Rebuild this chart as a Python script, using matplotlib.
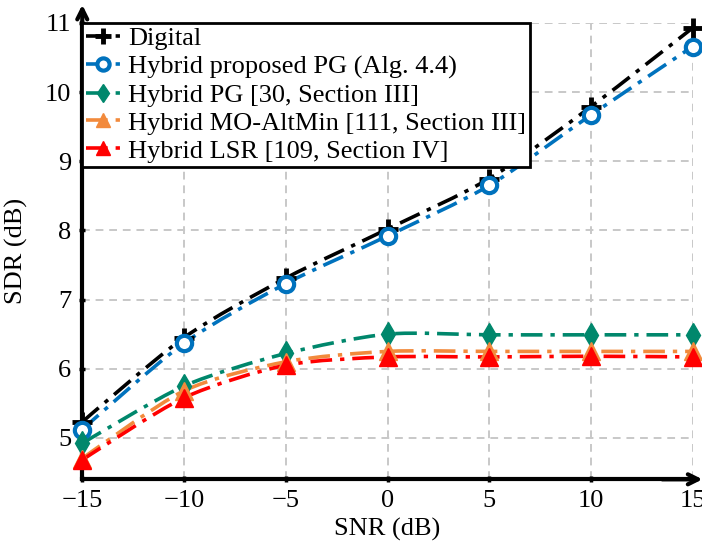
import numpy as np
import matplotlib
matplotlib.use("Agg")
import matplotlib.pyplot as plt
from matplotlib.path import Path
from matplotlib.patches import PathPatch
from matplotlib.lines import Line2D

plt.rcParams["font.family"] = ["Liberation Serif", "DejaVu Serif"]
plt.rcParams["mathtext.fontset"] = "stix"

snr = [-15, -10, -5, 0, 5, 10, 15]
digital = [5.23, 6.45, 7.31, 8.02, 8.75, 9.79, 10.93]
proposed_pg = [5.12, 6.37, 7.23, 7.92, 8.65, 9.67, 10.66]
hybrid_pg = [4.92, 5.75, 6.22, 6.50, 6.49, 6.49, 6.49]
mo_altmin = [4.70, 5.68, 6.10, 6.25, 6.25, 6.25, 6.25]
lsr = [4.68, 5.58, 6.05, 6.17, 6.17, 6.18, 6.17]

labels = ["Digital",
          "Hybrid proposed PG (Alg. 4.4)",
          "Hybrid PG [30, Section III]",
          "Hybrid MO-AltMin [111, Section III]",
          "Hybrid LSR [109, Section IV]"]
colors = ["black", "#0072BD", "#00876C", "#F28A3C", "#FF0000"]
markers = ["P", "o", "D", "^", "^"]
series = [digital, proposed_pg, hybrid_pg, mo_altmin, lsr]


def smooth_path(x, y, tension=0.4):
    """Bezier path through the points, in the style of a smooth plot."""
    pts = np.column_stack([x, y]).astype(float)
    n = len(pts)
    tang = np.zeros_like(pts)
    for i in range(1, n - 1):
        tang[i] = (pts[i + 1] - pts[i - 1]) * tension / 3.0
    verts = [pts[0]]
    codes = [Path.MOVETO]
    for i in range(n - 1):
        verts += [pts[i] + tang[i], pts[i + 1] - tang[i + 1], pts[i + 1]]
        codes += [Path.CURVE4] * 3
    return Path(verts, codes)


fig = plt.figure(figsize=(7.02, 5.41), dpi=100)
ax = fig.add_axes([0.1172, 0.1140, 0.8696, 0.8435])
ax.set_xlim(-15, 15)
ax.set_ylim(4.4, 11)

dash = (0, (6, 2.2, 1.2, 2.2))
handles = []
for vals, col, mk, lab in zip(series, colors, markers, labels):
    ax.add_patch(PathPatch(smooth_path(snr, vals), facecolor="none",
                           edgecolor=col, lw=2.6, linestyle=dash,
                           zorder=3, clip_on=False))
    if mk == "o":
        kw = dict(marker="o", ms=11, mfc="white", mec=col, mew=3)
    elif mk == "P":
        kw = dict(marker="+", ms=14, mec=col, mew=3.5)
    elif mk == "D":
        kw = dict(marker="d", ms=12, mfc=col, mec=col, mew=1)
    else:
        kw = dict(marker="^", ms=13, mfc=col, mec=col, mew=1)
    ax.plot(snr, vals, ls="none", zorder=4, clip_on=False, **kw)
    handles.append(Line2D([], [], color=col, lw=2.6, linestyle=dash,
                          label=lab, **kw))

ax.set_xticks(snr)
ax.set_yticks([5, 6, 7, 8, 9, 10, 11])
ax.grid(True, color="#c8c8c8", linestyle=(0, (4, 3)), lw=1.4)
ax.set_axisbelow(True)
for s in ["top", "right"]:
    ax.spines[s].set_visible(False)
for s in ["left", "bottom"]:
    ax.spines[s].set_linewidth(3)
ax.tick_params(axis="both", labelsize=19, length=4, width=2.5,
               direction="inout", pad=6)

ax.annotate("", xy=(1.016, 0), xycoords="axes fraction",
            xytext=(0.95, 0), textcoords="axes fraction",
            arrowprops=dict(arrowstyle="->", lw=3, color="black",
                            mutation_scale=18, shrinkA=0, shrinkB=0))
ax.annotate("", xy=(0, 1.04), xycoords="axes fraction",
            xytext=(0, 0.95), textcoords="axes fraction",
            arrowprops=dict(arrowstyle="->", lw=3, color="black",
                            mutation_scale=18, shrinkA=0, shrinkB=0))

ax.set_xlabel("SNR (dB)", fontsize=19, labelpad=4)
ax.set_ylabel("SDR (dB)", fontsize=19, labelpad=12)

leg = ax.legend(handles=handles, loc="upper left", bbox_to_anchor=(0, 1),
                borderaxespad=0, fontsize=19, fancybox=False, framealpha=1,
                edgecolor="black", handlelength=1.3, handletextpad=0.3,
                labelspacing=0.17, borderpad=0.15, markerscale=0.8)
leg.get_frame().set_linewidth(2)
leg.set_zorder(10)

fig.savefig("out.png", dpi=100)
